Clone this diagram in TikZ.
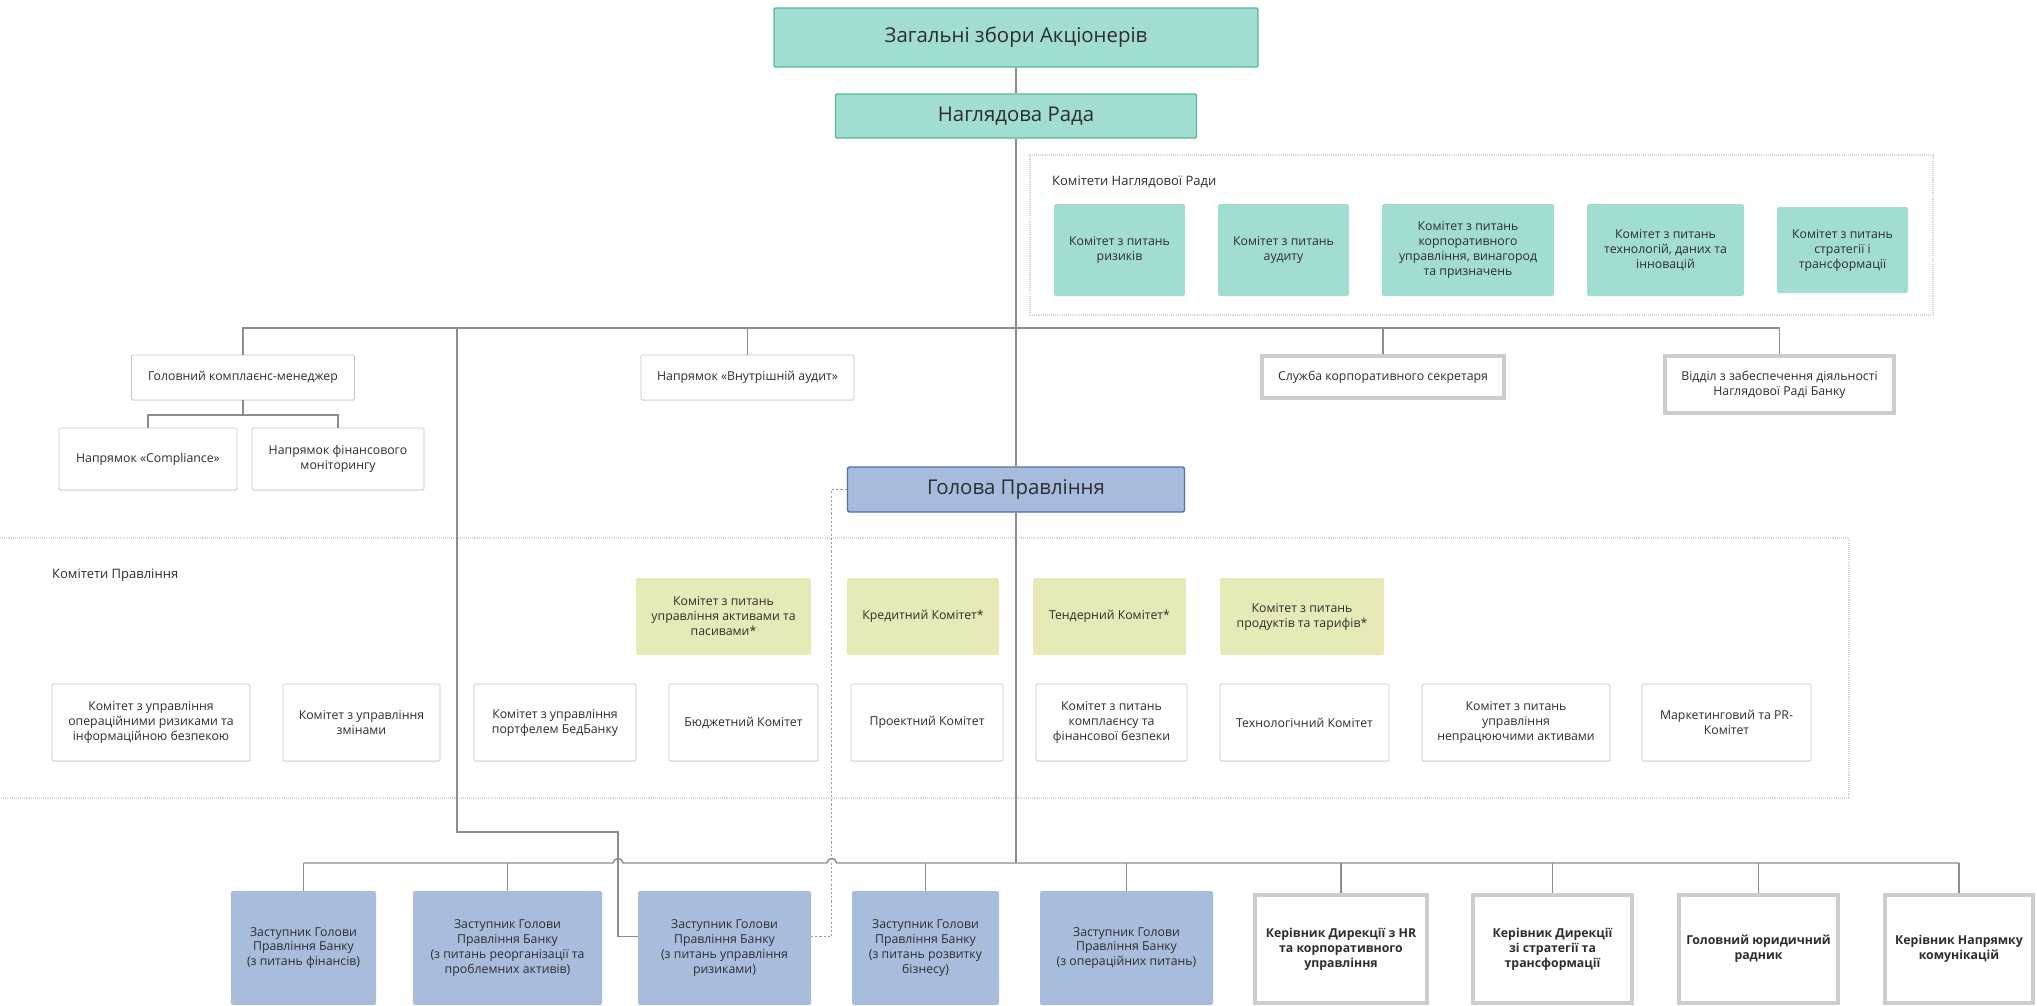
\documentclass[tikz,border=0pt]{standalone}
\usepackage{fontspec}
\setmainfont{Open Sans}
\usetikzlibrary{positioning, calc, shadows}
\definecolor{tealfill}{RGB}{162,221,210}
\definecolor{tealline}{RGB}{88,183,160}
\definecolor{bluefill}{RGB}{167,188,220}
\definecolor{blueline}{RGB}{80,112,165}
\definecolor{depfill}{RGB}{168,189,219}
\definecolor{yelfill}{RGB}{231,234,183}
\definecolor{boxline}{RGB}{196,196,196}
\definecolor{thickline}{RGB}{205,205,205}
\definecolor{connline}{RGB}{140,140,140}
\definecolor{grpline}{RGB}{215,215,215}
\definecolor{txtcol}{RGB}{45,45,45}
\newlength{\pxu}
\setlength{\pxu}{0.05cm}
\newcommand{\boxfont}{\fontsize{17.5}{21.3}\selectfont}
\newcommand{\grpfont}{\fontsize{18.5}{22}\selectfont}
\newcommand{\headfont}{\fontsize{29}{34}\selectfont}
\tikzset{wh/.style 2 args={minimum width=#1\pxu, minimum height=#2\pxu, inner sep=0pt, align=center, text=txtcol}}

\begin{document}
\begin{tikzpicture}[x=\pxu, y=-\pxu,
        head/.style={fill=tealfill, draw=tealline, line width=2pt, rounded corners=2pt, font=\headfont},
        kom/.style={fill=tealfill, rounded corners=3pt, font=\boxfont},
        chief/.style={fill=bluefill, draw=blueline, line width=2pt, rounded corners=3pt, font=\headfont},
        dep/.style={fill=depfill, rounded corners=3pt, font=\boxfont},
        yel/.style={fill=yelfill, rounded corners=3pt, font=\boxfont},
        wbox/.style={fill=white, draw=boxline, line width=1pt, rounded corners=2pt, font=\boxfont, drop shadow={shadow xshift=0pt, shadow yshift=-1.5pt, opacity=0.12}},
        tbox/.style={fill=white, draw=thickline, line width=5pt, font=\boxfont},
        grp/.style={draw=grpline, line width=1.5pt, dash pattern=on 1.5pt off 1.5pt},
        grplabel/.style={inner sep=0pt, text=txtcol, font=\grpfont},
        conn/.style={draw=connline, line width=2pt},
        dconn/.style={draw=connline!85, line width=1.8pt, dash pattern=on 3pt off 3pt}
    ]
        \fill[white] (0,0) rectangle (2037,1005);
        \useasboundingbox (0,0) rectangle (2037,1005);

        \node[grp, wh={903}{160}] (knr) at (1481.5,235) {};
        \node[grp, wh={1869}{260}] (kp) at (914.5,668) {};
        \node[grplabel, anchor=west] (lknr) at (1052,182) {Комітети Наглядової Ради};
        \node[grplabel, anchor=west] (lkp) at (52,575) {Комітети Правління};

        \node[head, wh={484}{59}] (zag) at (1016,37.5) {Загальні збори Акціонерів};
        \node[head, wh={361}{44}] (nr) at (1016,116) {Наглядова Рада};

        \node[kom, wh={131}{92}] (k1) at (1119.5,250) {Комітет з питань\\ризиків};
        \node[kom, wh={131}{92}] (k2) at (1283.5,250) {Комітет з питань\\аудиту};
        \node[kom, wh={172}{92}] (k3) at (1468,250) {Комітет з питань\\корпоративного\\управління, винагород\\та призначень};
        \node[kom, wh={157}{92}] (k4) at (1665.5,250) {Комітет з питань\\технологій, даних та\\інновацій};
        \node[kom, wh={131}{86}] (k5) at (1842.5,250) {Комітет з питань\\стратегії і\\трансформації};

        \node[wbox, wh={223}{45}] (gkm) at (243,377.5) {Головний комплаєнс-менеджер};
        \node[wbox, wh={178}{62}] (cmp) at (148,459) {Напрямок «Compliance»};
        \node[wbox, wh={172}{62}] (fm) at (338,459) {Напрямок фінансового\\моніторингу};
        \node[wbox, wh={213}{45}] (vau) at (747.5,377.5) {Напрямок «Внутрішній аудит»};
        \node[tbox, wh={242}{42}] (skr) at (1383,377) {Служба корпоративного секретаря};
        \node[tbox, wh={229}{57}] (vid) at (1779.5,384.5) {Відділ з забеспечення діяльності\\Наглядової Раді Банку};

        \node[chief, wh={337}{45}] (gp) at (1016,489.5) {Голова Правління};

        \node[yel, wh={175}{77}] (y1) at (723.5,616.5) {Комітет з питань\\управління активами та\\пасивами*};
        \node[yel, wh={152}{77}] (y2) at (923,616.5) {Кредитний Комітет*};
        \node[yel, wh={153}{77}] (y3) at (1109.5,616.5) {Тендерний Комітет*};
        \node[yel, wh={164}{77}] (y4) at (1302,616.5) {Комітет з питань\\продуктів та тарифів*};

        \node[wbox, wh={198}{77}] (w1) at (151,722.5) {Комітет з управління\\операційними ризиками та\\інформаційною безпекою};
        \node[wbox, wh={157}{77}] (w2) at (361.5,722.5) {Комітет з управління\\змінами};
        \node[wbox, wh={162}{77}] (w3) at (555,722.5) {Комітет з управління\\портфелем БедБанку};
        \node[wbox, wh={149}{77}] (w4) at (743.5,722.5) {Бюджетний Комітет};
        \node[wbox, wh={152}{77}] (w5) at (927,722.5) {Проектний Комітет};
        \node[wbox, wh={151}{77}] (w6) at (1111.5,722.5) {Комітет з питань\\комплаєнсу та\\фінансової безпеки};
        \node[wbox, wh={169}{77}] (w7) at (1304.5,722.5) {Технологічний Комітет};
        \node[wbox, wh={188}{77}] (w8) at (1516,722.5) {Комітет з питань\\управління\\непрацюючими активами};
        \node[wbox, wh={169}{77}] (w9) at (1726.5,722.5) {Маркетинговий та PR-\\Комітет};

        \node[dep, wh={145}{114}] (d1) at (303.5,948) {Заступник Голови\\Правління Банку\\(з питань фінансів)};
        \node[dep, wh={189}{114}] (d2) at (507.5,948) {Заступник Голови\\Правління Банку\\(з питань реорганізації та\\проблемних активів)};
        \node[dep, wh={173}{114}] (d3) at (724.5,948) {Заступник Голови\\Правління Банку\\(з питань управління\\ризиками)};
        \node[dep, wh={147}{114}] (d4) at (925.5,948) {Заступник Голови\\Правління Банку\\(з питань розвитку\\бізнесу)};
        \node[dep, wh={173}{114}] (d5) at (1126.5,948) {Заступник Голови\\Правління Банку\\(з операційних питань)};
        \node[tbox, wh={172}{108}, font=\boxfont\bfseries] (h1) at (1341,949) {Керівник Дирекції з HR\\та корпоративного\\управління};
        \node[tbox, wh={159}{108}, font=\boxfont\bfseries] (h2) at (1552.5,949) {Керівник Дирекції\\зі стратегії та\\трансформації};
        \node[tbox, wh={159}{108}, font=\boxfont\bfseries] (h3) at (1758.5,949) {Головний юридичний\\радник};
        \node[tbox, wh={148}{108}, font=\boxfont\bfseries] (h4) at (1959,949) {Керівник Напрямку\\комунікацій};

        \coordinate (bus1) at (0,328);
        \coordinate (bus2) at (0,863);
        \coordinate (cbus) at (0,415);
        \coordinate (bj) at (457,328);
        \coordinate (bk) at (618,832);
        \coordinate (dk) at ($(gp.west)+(-15,0)$);

        \draw[conn] (zag.south) -- (nr.north);
        \draw[conn] (nr.south) -- (gp.north);
        \draw[conn] (gkm.north) -- (gkm.north |- bus1) -- (vid.north |- bus1) -- (vid.north);
        \draw[conn] (vau.north) -- (vau.north |- bus1);
        \draw[conn] (skr.north) -- (skr.north |- bus1);
        \draw[conn] (gkm.south) -- (gkm.south |- cbus);
        \draw[conn] (cmp.north) |- (fm.north |- cbus) -- (fm.north);
        \draw[conn] (gp.south) -- (gp.south |- bus2);
        \draw[conn] (d1.north |- bus2) -- ($(bk |- bus2)+(-5,0)$) .. controls +(1,-6) and +(-1,-6) .. ($(bk |- bus2)+(5,0)$)
            -- ($(dk |- bus2)+(-5,0)$) .. controls +(1,-6) and +(-1,-6) .. ($(dk |- bus2)+(5,0)$) -- (h4.north |- bus2);
        \foreach \n in {d1,d2,d4,d5,h1,h2,h3,h4}
            \draw[conn] (\n.north) -- (\n.north |- bus2);
        \draw[conn] (bj) |- (bk) |- ($(d3.north west)!0.4!(d3.south west)$);
        \draw[dconn] (gp.west) -- (dk) |- ($(d3.north east)!0.4!(d3.south east)$);
    \end{tikzpicture}
\end{document}
